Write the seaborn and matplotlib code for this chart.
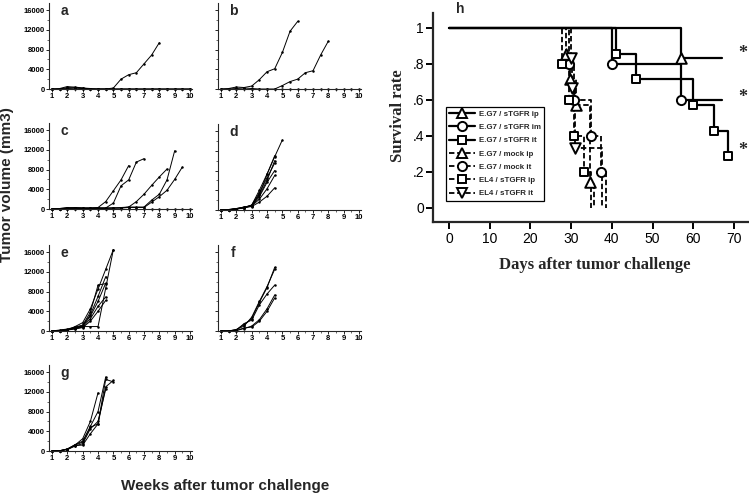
import pandas as pd
import matplotlib
matplotlib.use("Agg")
import matplotlib.pyplot as plt
import seaborn as sns
from matplotlib.lines import Line2D
from matplotlib.ticker import MultipleLocator, FixedLocator, FixedFormatter

sns.set_theme(style="ticks")
plt.rcParams['font.family'] = ['Liberation Sans', 'DejaVu Sans']

# ---- tumor growth (weeks after challenge, volume mm3) ----
weeks = [1, 1.5, 2, 2.5, 3, 3.5, 4, 4.5, 5, 5.5, 6, 6.5, 7, 7.5, 8, 8.5, 9, 9.5, 10]
zero_mouse = [0, 0, 0, 0, 0, 0, 0, 0, 0, 0, 0, 0, 0, 0, 0, 0, 0, 0, 0]

a_mice = [
    [0, 0, 100, 150, 100, 0, 0, 0, 200, 2000, 2900, 3300, 5100, 6900, 9400],
    [0, 100, 500, 300, 200, 100, 0, 0, 0, 0, 0, 0, 0, 0, 0, 0, 0, 0, 0],
    [0, 0, 300, 400, 200, 0, 0, 0, 0, 0, 0, 0, 0, 0, 0, 0, 0, 0, 0],
    zero_mouse,
]
b_mice = [
    [0, 100, 400, 300, 600, 1900, 3500, 4100, 7400, 11700, 13700],
    [0, 0, 100, 200, 100, 0, 0, 0, 700, 1500, 2000, 3300, 3700, 6900, 9700],
    zero_mouse,
]
c_mice = [
    [0, 100, 300, 200, 200, 200, 300, 1500, 3700, 5900, 8800],
    [0, 100, 200, 300, 200, 200, 200, 200, 1200, 4700, 5900, 9500, 10200],
    [0, 0, 100, 200, 100, 100, 200, 200, 200, 200, 400, 1500, 3000, 4800, 6500, 8100],
    [0, 0, 200, 100, 100, 200, 200, 100, 200, 300, 400, 400, 400, 1800, 3000, 5900, 11800],
    [0, 0, 100, 200, 200, 100, 100, 200, 200, 200, 300, 300, 300, 1400, 2500, 3800, 6000, 8500],
    zero_mouse,
]
d_mice = [
    [0, 50, 200, 500, 1000, 4000, 7300, 10800, 14200],
    [0, 50, 250, 600, 900, 3200, 7200, 11000],
    [0, 100, 300, 600, 800, 2700, 5600, 8000],
    [0, 50, 200, 500, 1000, 3500, 6500, 9500],
    [0, 50, 200, 500, 700, 1600, 2800, 4500],
    [0, 100, 300, 500, 800, 2200, 4300, 7000],
    [0, 50, 200, 400, 900, 3000, 6000, 10000],
]
e_mice = [
    [0, 100, 200, 900, 1700, 4500, 8500, 12500, 16500],
    [0, 0, 300, 600, 900, 900, 900, 8700, 16500],
    [0, 100, 300, 600, 1000, 3000, 6000, 9700],
    [0, 100, 200, 500, 800, 2500, 5000, 6900],
    [0, 100, 200, 400, 700, 2000, 4000, 6200],
    [0, 200, 400, 800, 1200, 3800, 9300, 9600],
    [0, 100, 300, 700, 1100, 3300, 7000, 11000],
]
f_mice = [
    [0, 0, 300, 1300, 2500, 5800, 8800, 12900],
    [0, 0, 200, 1500, 2200, 5300, 7500, 9300],
    [0, 0, 100, 500, 1000, 2300, 4500, 7300],
    [0, 0, 100, 600, 800, 2000, 4000, 6700],
    [0, 0, 300, 1000, 2800, 6000, 9000, 12500],
]
g_mice = [
    [0, 50, 400, 1200, 2500, 6000, 11800],
    [0, 50, 400, 1200, 1800, 4800, 5500, 13000, 14300],
    [0, 50, 300, 1000, 1500, 4500, 6000, 12500],
    [0, 50, 400, 1300, 2000, 5000, 8000, 15000],
    [0, 50, 300, 1100, 1200, 3500, 5500, 14500, 14000],
]
vol_ticks = [0, 4000, 8000, 12000, 16000]

# ---- survival (days after challenge) ----
km_labels = ["E.G7 / sTGFR ip", "E.G7 / sTGFR im", "E.G7 / sTGFR it",
             "E.G7 / mock ip", "E.G7 / mock it", "EL4 / sTGFR ip", "EL4 / sTGFR it"]
km_markers = ['^', 'o', 's', '^', 'o', 's', 'v']
km_dashed = [False, False, False, True, True, True, True]
ip_days = [0, 57, 67]
ip_surv = [1, 0.833, 0.833]
im_days = [0, 40, 57, 67]
im_surv = [1, 0.8, 0.6, 0.6]
it_days = [0, 41, 46, 60, 65, 68.6]
it_surv = [1, 0.857, 0.714, 0.571, 0.429, 0.286]
mockip_days = [0, 28.7, 29.7, 31.2, 34.6, 35.7]
mockip_surv = [1, 0.857, 0.714, 0.571, 0.143, 0]
mockit_days = [0, 29.5, 30.7, 34.8, 37.3, 38.5]
mockit_surv = [1, 0.8, 0.6, 0.4, 0.2, 0]
el4ip_days = [0, 27.7, 29.6, 30.7, 33.2, 34.9]
el4ip_surv = [1, 0.8, 0.6, 0.4, 0.2, 0]
el4it_days = [0, 29.9, 30.1, 31.0, 37.7]
el4it_surv = [1, 0.833, 0.667, 0.333, 0]
km_days = [ip_days, im_days, it_days, mockip_days, mockit_days, el4ip_days, el4it_days]
km_surv = [ip_surv, im_surv, it_surv, mockip_surv, mockit_surv, el4ip_surv, el4it_surv]
surv_ticks = [0, 0.2, 0.4, 0.6, 0.8, 1]
surv_ticklabels = ['0', '.2', '.4', '.6', '.8', '1']
star_levels = [0.858, 0.614, 0.319]

W, H = 749, 494
fig = plt.figure(figsize=(W / 100, H / 100), dpi=100)


def px_axes(left, right, bottom, top):
    return fig.add_axes([left / W, 1 - bottom / H, (right - left) / W, (bottom - top) / H])


def growth_panel(left, bottom, mice, letter, show_y):
    ax = px_axes(left, left + 143, bottom, bottom - 86.4)
    rows = []
    for m, vol in enumerate(mice):
        for w, v in zip(weeks, vol):
            rows.append((m, w, v))
    df = pd.DataFrame(rows, columns=['mouse', 'week', 'volume'])
    sns.lineplot(data=df, x='week', y='volume', units='mouse', estimator=None,
                 color='black', lw=0.7, marker='o', markersize=1.8, markeredgewidth=0,
                 clip_on=False, legend=False, ax=ax)
    ax.set_xlim(0.8, 10.13)
    ax.set_ylim(0, 17500)
    ax.set_xticks(range(1, 11))
    ax.xaxis.set_minor_locator(MultipleLocator(0.5))
    ax.set_yticks(vol_ticks)
    ax.yaxis.set_minor_locator(MultipleLocator(2000))
    ax.set_xlabel('')
    ax.set_ylabel('')
    for s in ['top', 'right']:
        ax.spines[s].set_visible(False)
    for s in ['left', 'bottom']:
        ax.spines[s].set_linewidth(0.8)
    ax.tick_params(which='major', length=2, width=0.6, pad=1, labelsize=5.5, colors='black')
    ax.tick_params(which='minor', length=1.5, width=0.5)
    for lab in ax.get_xticklabels() + ax.get_yticklabels():
        lab.set_fontweight('bold')
    if not show_y:
        ax.set_yticklabels([])
    ax.text(1.8, 15000, letter, fontsize=10, fontweight='bold', va='baseline', ha='center')
    return ax


growth_panel(49, 89, a_mice, 'a', True)
growth_panel(218, 89, b_mice, 'b', False)
growth_panel(49, 209, c_mice, 'c', True)
growth_panel(218, 210, d_mice, 'd', False)
growth_panel(49, 331, e_mice, 'e', True)
growth_panel(218, 331, f_mice, 'f', False)
growth_panel(49, 451, g_mice, 'g', True)

fig.text(7 / W, 1 - 185 / H, 'Tumor volume (mm3)', rotation=90, fontsize=11,
         fontweight='bold', ha='center', va='center')
fig.text(225 / W, 1 - 486 / H, 'Weeks after tumor challenge', fontsize=11,
         fontweight='bold', ha='center', va='center')

# ---- panel h ----
axh = px_axes(433, 748, 222, 13)
dash = (0, (3, 1.5))
order = [3, 4, 5, 6, 0, 1, 2]
for i in order:
    ls = dash if km_dashed[i] else '-'
    lw = 1.3 if km_dashed[i] else 1.6
    sns.lineplot(x=km_days[i], y=km_surv[i], drawstyle='steps-post', estimator=None,
                 color='black', lw=lw, linestyle=ls, ax=axh)
msize = {'^': 7.6, 'v': 7.6, 'o': 6.6, 's': 6.2}
for i in order:
    d, s = km_days[i], km_surv[i]
    px = [d[k] for k in range(1, len(d)) if 0 < s[k] < s[k - 1]]
    py = [s[k] for k in range(1, len(d)) if 0 < s[k] < s[k - 1]]
    sns.scatterplot(x=px, y=py, marker=km_markers[i], s=msize[km_markers[i]] ** 2,
                    facecolor='white', edgecolor='black', linewidth=1.4, zorder=5, ax=axh)

axh.set_xlim(-3.93, 73.45)
axh.set_ylim(-0.078, 1.083)
axh.set_xticks(range(0, 71, 10))
axh.yaxis.set_major_locator(FixedLocator(surv_ticks))
axh.yaxis.set_major_formatter(FixedFormatter(surv_ticklabels))
for s in ['top', 'right']:
    axh.spines[s].set_visible(False)
for s in ['left', 'bottom']:
    axh.spines[s].set_linewidth(1.6)
axh.tick_params(length=5, width=1.4, labelsize=10, colors='black')
axh.tick_params(axis='x', pad=2)
axh.tick_params(axis='y', pad=1.5)
axh.set_xlabel('')
axh.set_ylabel('')

for y in star_levels:
    axh.text(72.2, y, '*', fontsize=13, fontweight='bold', family='Liberation Serif',
             ha='center', va='center', clip_on=False)

handles = []
for i in range(7):
    handles.append(Line2D([0], [0], color='black', lw=1.3 if km_dashed[i] else 1.6,
                          linestyle=dash if km_dashed[i] else '-', marker=km_markers[i],
                          markersize=msize[km_markers[i]], markerfacecolor='white',
                          markeredgecolor='black', markeredgewidth=1.4))
leg = axh.legend(handles, km_labels, loc='upper left', bbox_to_anchor=(0.041, 0.550),
                 borderaxespad=0, prop={'size': 5.7, 'weight': 'bold'}, handlelength=3.3,
                 handletextpad=0.4, labelspacing=0.72, borderpad=0.42, fancybox=False,
                 framealpha=1, edgecolor='black')
leg.get_frame().set_linewidth(0.9)

fig.text(460 / W, 1 - 9 / H, 'h', fontsize=10, fontweight='bold', ha='center', va='center')
fig.text(398 / W, 1 - 116 / H, 'Survival rate', rotation=90, fontsize=12, fontweight='bold',
         family='Liberation Serif', ha='center', va='center')
fig.text(595 / W, 1 - 265 / H, 'Days after tumor challenge', fontsize=12, fontweight='bold',
         family='Liberation Serif', ha='center', va='center')

fig.savefig('out.png', dpi=100)
